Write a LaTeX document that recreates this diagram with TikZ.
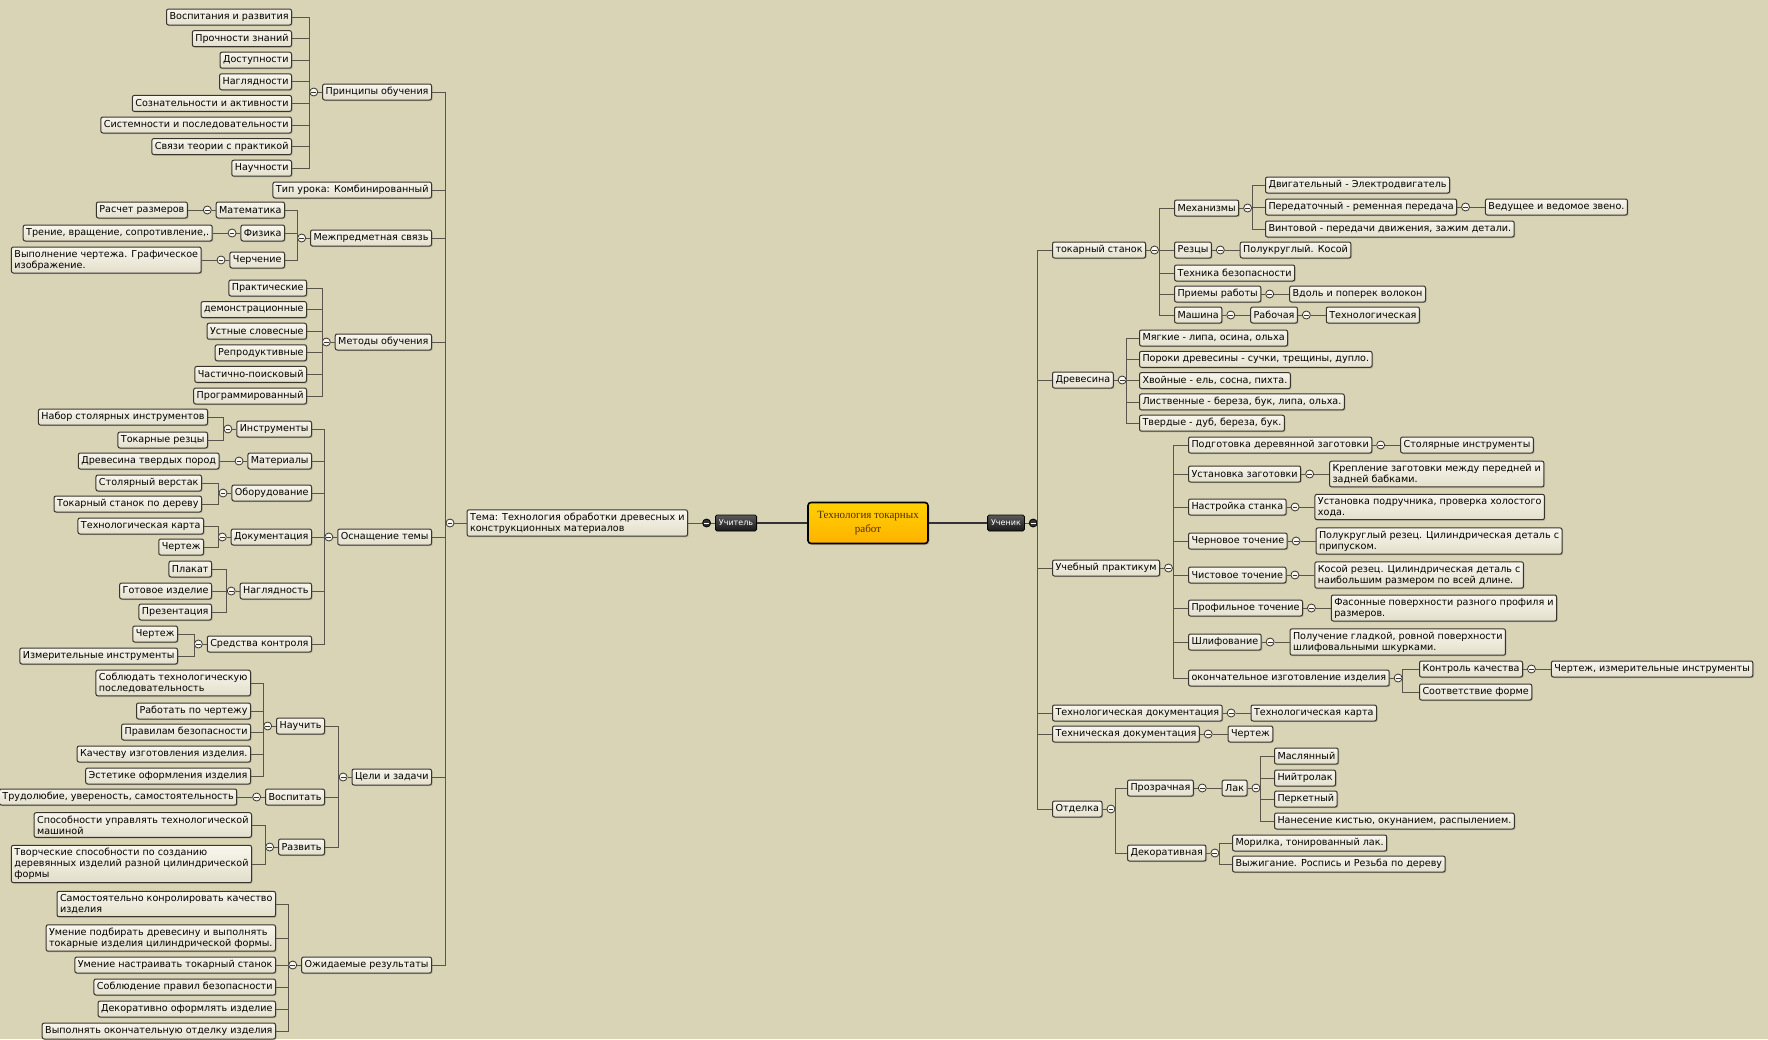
\documentclass[tikz,border=0pt]{standalone}
\usepackage{fontspec}
\setmainfont{DejaVu Sans}
\newfontfamily\rootfont{Liberation Serif}
\usetikzlibrary{positioning,shadows}

\definecolor{paper}{RGB}{217,212,182}
\definecolor{boxtop}{RGB}{249,247,238}
\definecolor{boxbot}{RGB}{226,222,202}
\definecolor{linecol}{RGB}{55,53,46}
\definecolor{wirecol}{RGB}{88,86,76}
\definecolor{rootfill}{RGB}{255,178,0}
\definecolor{roottext}{RGB}{80,45,0}

\tikzset{
  topic/.style={rectangle, rounded corners=2pt, draw=linecol, line width=1pt,
    top color=boxtop, bottom color=boxbot,
    drop shadow={opacity=0.3, shadow xshift=1.2pt, shadow yshift=-1.2pt},
    minimum height=16pt, inner xsep=3pt, inner ysep=3pt, align=left},
  ltopic/.style={topic, anchor=east},
  rtopic/.style={topic, anchor=west},
  fold/.style={circle, draw=linecol, line width=0.8pt, fill=boxtop, minimum size=8pt, inner sep=0pt,
    path picture={\draw[linecol, line width=0.9pt] ([xshift=-2.4pt]path picture bounding box.center) -- ([xshift=2.4pt]path picture bounding box.center);}},
  darkfold/.style={circle, draw=black, line width=0.8pt, fill=black!80, minimum size=8pt, inner sep=0pt,
    path picture={\draw[white, line width=0.9pt] ([xshift=-2.4pt]path picture bounding box.center) -- ([xshift=2.4pt]path picture bounding box.center);}},
  person/.style={rectangle, rounded corners=1.5pt, draw=black, line width=0.8pt, top color=black!65, bottom color=black!90,
    text=white, font=\fontsize{8}{10}\selectfont, minimum height=16pt, inner xsep=3.5pt},
  root/.style={rectangle, rounded corners=3pt, draw=black, line width=1.6pt,
    top color=rootfill!60!yellow, bottom color=rootfill, text=roottext,
    minimum width=120pt, minimum height=41pt, align=center, font=\rootfont\fontsize{11}{14}\selectfont,
    drop shadow={opacity=0.3, shadow xshift=1.5pt, shadow yshift=-1.5pt}},
  wire/.style={draw=wirecol, line width=0.8pt},
  trunk/.style={draw=black!80, line width=1.4pt},
}

\begin{document}
\begin{tikzpicture}[x=1pt, y=-1pt, font=\fontsize{9.6}{11}\selectfont]
\useasboundingbox (0,0) rectangle (1768,1039);
\fill[paper] (0,0) rectangle (1768,1039);

\node[root] (root) at (868,523) {Технология токарных\\работ};
\node[person] (uchit) at (736,523) {Учитель};
\node[person] (uchen) at (1006,523) {Ученик};
\node[darkfold, left=4pt of uchit] (fuchit) {};
\node[darkfold, right=4pt of uchen] (fuchen) {};
\node[ltopic] (tema) at (688,523) {Тема: Технология обработки древесных и\\конструкционных материалов};
\node[fold] (ftema) at (450,523) {};
\draw[trunk] (uchit.east) -- (root.west);
\draw[trunk] (root.east) -- (uchen.west);
\draw[wire] (fuchit.east) -- (uchit.west);
\draw[wire] (tema.east) -- (fuchit.west);
\draw[wire] (uchen.east) -- (fuchen.west);

\node[ltopic] (princ) at (432,92) {Принципы обучения};
\node[ltopic] (tip) at (432,190) {Тип урока: Комбинированный};
\node[ltopic] (mezh) at (432,238) {Межпредметная связь};
\node[ltopic] (metod) at (432,342) {Методы обучения};
\node[ltopic] (osn) at (432,537) {Оснащение темы};
\node[ltopic] (celi) at (432,777) {Цели и задачи};
\node[ltopic] (ozhid) at (432,965) {Ожидаемые результаты};
\foreach \p in {princ,mezh,metod,osn,celi,ozhid}
  \node[fold, left=4pt of \p] (f\p) {};
\foreach \p in {princ,tip,mezh,metod,osn,celi,ozhid}
  \draw[wire] (\p.east) -| (ftema.west);

\foreach \t [count=\i] in {Воспитания и развития, Прочности знаний, Доступности, Наглядности,
    Сознательности и активности, Системности и последовательности, Связи теории с практикой, Научности}
  \node[ltopic] (princ\i) at (292,{17+21.6*(\i-1)}) {\t};
\foreach \i in {1,...,8}
  \draw[wire] (princ\i.east) -| (fprinc.west);

\node[ltopic] (mat) at (285,210) {Математика};
\node[ltopic] (fiz) at (285,233) {Физика};
\node[ltopic] (cher) at (285,260) {Черчение};
\foreach \p in {mat,fiz,cher}
  \node[fold, left=4pt of \p] (f\p) {};
\node[ltopic, left=15pt of fmat] (mat1) {Расчет размеров};
\node[ltopic, left=15pt of ffiz] (fiz1) {Трение, вращение, сопротивление,.};
\node[ltopic, left=15pt of fcher] (cher1) {Выполнение чертежа. Графическое\\изображение.};
\foreach \c in {mat,fiz,cher}
  \draw[wire] (\c.east) -| (fmezh.west);

\foreach \t [count=\i] in {Практические, демонстрационные, Устные словесные, Репродуктивные,
    Частично-поисковый, Программированный}
  \node[ltopic] (metod\i) at (307,{288+21.6*(\i-1)}) {\t};
\foreach \i in {1,...,6}
  \draw[wire] (metod\i.east) -| (fmetod.west);

\node[ltopic] (instr) at (312,429) {Инструменты};
\node[ltopic] (mater) at (312,461) {Материалы};
\node[ltopic] (obor) at (312,493) {Оборудование};
\node[ltopic] (dok) at (312,537) {Документация};
\node[ltopic] (nagl) at (312,591) {Наглядность};
\node[ltopic] (sredk) at (312,644) {Средства контроля};
\foreach \p in {instr,mater,obor,dok,nagl,sredk}
  \node[fold, left=4pt of \p] (f\p) {};
\node[ltopic] (instr1) at (208,417) {Набор столярных инструментов};
\node[ltopic] (instr2) at (208,440) {Токарные резцы};
\node[ltopic, left=15pt of fmater] (mater1) {Древесина твердых пород};
\node[ltopic] (obor1) at (202,483) {Столярный верстак};
\node[ltopic] (obor2) at (202,504) {Токарный станок по дереву};
\node[ltopic] (dok1) at (204,526) {Технологическая карта};
\node[ltopic] (dok2) at (204,547) {Чертеж};
\node[ltopic] (nagl1) at (212,569) {Плакат};
\node[ltopic] (nagl2) at (212,591) {Готовое изделие};
\node[ltopic] (nagl3) at (212,612) {Презентация};
\node[ltopic] (sredk1) at (178,634) {Чертеж};
\node[ltopic] (sredk2) at (178,656) {Измерительные инструменты};
\foreach \c in {instr,mater,obor,dok,nagl,sredk}
  \draw[wire] (\c.east) -| (fosn.west);
\foreach \c/\f in {instr1/instr,instr2/instr,mater1/mater,obor1/obor,obor2/obor,dok1/dok,dok2/dok,
    nagl1/nagl,nagl2/nagl,nagl3/nagl,sredk1/sredk,sredk2/sredk}
  \draw[wire] (\c.east) -| (f\f.west);

\node[ltopic] (nauch) at (325,726) {Научить};
\node[ltopic] (vosp) at (325,797) {Воспитать};
\node[ltopic] (razv) at (325,847) {Развить};
\foreach \p in {nauch,vosp,razv}
  \node[fold, left=4pt of \p] (f\p) {};
\node[ltopic] (nauch1) at (251,683) {Соблюдать технологическую\\последовательность};
\node[ltopic] (nauch2) at (251,711) {Работать по чертежу};
\node[ltopic] (nauch3) at (251,732) {Правилам безопасности};
\node[ltopic] (nauch4) at (251,754) {Качеству изготовления изделия.};
\node[ltopic] (nauch5) at (251,776) {Эстетике оформления изделия};
\node[ltopic, left=15pt of fvosp] (vosp1) {Трудолюбие, увереность, самостоятельность};
\node[ltopic] (razv1) at (252,825) {Способности управлять технологической\\машиной};
\node[ltopic] (razv2) at (252,864) {Творческие способности по созданию\\деревянных изделий разной цилиндрической\\формы};
\foreach \c in {nauch,vosp,razv}
  \draw[wire] (\c.east) -| (fceli.west);
\foreach \i in {1,...,5}
  \draw[wire] (nauch\i.east) -| (fnauch.west);
\foreach \i in {1,2}
  \draw[wire] (razv\i.east) -| (frazv.west);

\node[ltopic] (ozhid1) at (276,904) {Самостоятельно конролировать качество\\изделия};
\node[ltopic] (ozhid2) at (276,938) {Умение подбирать древесину и выполнять\\токарные изделия цилиндрической формы.};
\node[ltopic] (ozhid3) at (276,965) {Умение настраивать токарный станок};
\node[ltopic] (ozhid4) at (276,987) {Соблюдение правил безопасности};
\node[ltopic] (ozhid5) at (276,1009) {Декоративно оформлять изделие};
\node[ltopic] (ozhid6) at (276,1031) {Выполнять окончательную отделку изделия};
\foreach \i in {1,...,6}
  \draw[wire] (ozhid\i.east) -| (fozhid.west);

\foreach \p in {princ,mezh,metod,osn,celi,ozhid,mat,fiz,cher,instr,mater,obor,dok,nagl,sredk,nauch,vosp,razv,tema}
  \draw[wire] (f\p.east) -- (\p.west);
\foreach \c/\f in {mat1/mat,fiz1/fiz,cher1/cher,vosp1/vosp}
  \draw[wire] (\c.east) -- (f\f.west);

\node[rtopic] (tok) at (1052,250) {токарный станок};
\node[rtopic] (drev) at (1052,380) {Древесина};
\node[rtopic] (prak) at (1052,568) {Учебный практикум};
\node[rtopic] (tdok) at (1052,713) {Технологическая документация};
\node[rtopic] (tehd) at (1052,734) {Техническая документация};
\node[rtopic] (otd) at (1052,809) {Отделка};
\foreach \p in {tok,drev,prak,tdok,tehd,otd}
  \node[fold, right=4pt of \p] (f\p) {};
\foreach \p in {tok,drev,prak,tdok,tehd,otd}
  \draw[wire] (fuchen.east) |- (\p.west);

\node[rtopic] (mech) at (1174,208) {Механизмы};
\node[rtopic] (rez) at (1174,250) {Резцы};
\node[rtopic] (tehb) at (1174,273) {Техника безопасности};
\node[rtopic] (priem) at (1174,294) {Приемы работы};
\node[rtopic] (mash) at (1174,315) {Машина};
\foreach \p in {mech,rez,priem,mash}
  \node[fold, right=4pt of \p] (f\p) {};
\node[rtopic] (mech1) at (1265,185) {Двигательный - Электродвигатель};
\node[rtopic] (mech2) at (1265,207) {Передаточный - ременная передача};
\node[rtopic] (mech3) at (1265,229) {Винтовой - передачи движения, зажим детали.};
\node[fold, right=4pt of mech2] (fmech2) {};
\node[rtopic, right=15pt of fmech2] (mech21) {Ведущее и ведомое звено.};
\node[rtopic, right=15pt of frez] (rez1) {Полукруглый. Косой};
\node[rtopic, right=15pt of fpriem] (priem1) {Вдоль и поперек волокон};
\node[rtopic, right=15pt of fmash] (mash1) {Рабочая};
\node[fold, right=4pt of mash1] (fmash1) {};
\node[rtopic, right=15pt of fmash1] (mash2) {Технологическая};
\foreach \c in {mech,rez,tehb,priem,mash}
  \draw[wire] (ftok.east) |- (\c.west);
\foreach \i in {1,2,3}
  \draw[wire] (fmech.east) |- (mech\i.west);

\foreach \t [count=\i] in {Мягкие - липа{,} осина{,} ольха, Пороки древесины - сучки{,} трещины{,} дупло.,
    Хвойные - ель{,} сосна{,} пихта., Лиственные - береза{,} бук{,} липа{,} ольха., Твердые - дуб{,} береза{,} бук.}
  \node[rtopic] (drev\i) at (1139,{338+21.3*(\i-1)}) {\t};
\foreach \i in {1,...,5}
  \draw[wire] (fdrev.east) |- (drev\i.west);

\node[rtopic] (prak1) at (1188,445) {Подготовка деревянной заготовки};
\node[rtopic] (prak2) at (1188,474) {Установка заготовки};
\node[rtopic] (prak3) at (1188,507) {Настройка станка};
\node[rtopic] (prak4) at (1188,541) {Черновое точение};
\node[rtopic] (prak5) at (1188,575) {Чистовое точение};
\node[rtopic] (prak6) at (1188,608) {Профильное точение};
\node[rtopic] (prak7) at (1188,642) {Шлифование};
\node[rtopic] (prak8) at (1188,678) {окончательное изготовление изделия};
\foreach \i in {1,...,8}
  \node[fold, right=4pt of prak\i] (fprak\i) {};
\node[rtopic, right=15pt of fprak1] (prak11) {Столярные инструменты};
\node[rtopic, right=15pt of fprak2] (prak21) {Крепление заготовки между передней и\\задней бабками.};
\node[rtopic, right=15pt of fprak3] (prak31) {Установка подручника, проверка холостого\\хода.};
\node[rtopic, right=15pt of fprak4] (prak41) {Полукруглый резец. Цилиндрическая деталь с\\припуском.};
\node[rtopic, right=15pt of fprak5] (prak51) {Косой резец. Цилиндрическая деталь с\\наибольшим размером по всей длине.};
\node[rtopic, right=15pt of fprak6] (prak61) {Фасонные поверхности разного профиля и\\размеров.};
\node[rtopic, right=15pt of fprak7] (prak71) {Получение гладкой, ровной поверхности\\шлифовальными шкурками.};
\node[rtopic] (kontr) at (1419,669) {Контроль качества};
\node[rtopic] (sootv) at (1419,692) {Соответствие форме};
\node[fold, right=4pt of kontr] (fkontr) {};
\node[rtopic, right=15pt of fkontr] (kontr1) {Чертеж, измерительные инструменты};
\foreach \i in {1,...,8}
  \draw[wire] (fprak.east) |- (prak\i.west);
\foreach \i in {1,...,7}
  \draw[wire] (fprak\i.east) -- (prak\i1.west);
\foreach \c in {kontr,sootv}
  \draw[wire] (fprak8.east) |- (\c.west);

\node[rtopic, right=15pt of ftdok] (tdok1) {Технологическая карта};
\node[rtopic, right=15pt of ftehd] (tehd1) {Чертеж};

\node[rtopic] (proz) at (1127,788) {Прозрачная};
\node[rtopic] (dekor) at (1127,853) {Декоративная};
\node[fold, right=4pt of proz] (fproz) {};
\node[fold, right=4pt of dekor] (fdekor) {};
\node[rtopic, right=15pt of fproz] (lak) {Лак};
\node[fold, right=4pt of lak] (flak) {};
\node[rtopic] (lak1) at (1274,756) {Маслянный};
\node[rtopic] (lak2) at (1274,778) {Нийтролак};
\node[rtopic] (lak3) at (1274,799) {Перкетный};
\node[rtopic] (lak4) at (1274,821) {Нанесение кистью, окунанием, распылением.};
\node[rtopic] (dek1) at (1232,843) {Морилка, тонированный лак.};
\node[rtopic] (dek2) at (1232,864) {Выжигание. Роспись и Резьба по дереву};
\foreach \c in {proz,dekor}
  \draw[wire] (fotd.east) |- (\c.west);
\foreach \i in {1,...,4}
  \draw[wire] (flak.east) |- (lak\i.west);
\foreach \i in {1,2}
  \draw[wire] (fdekor.east) |- (dek\i.west);

\foreach \p in {tok,drev,prak,tdok,tehd,otd,mech,mech2,rez,priem,mash,mash1,prak1,prak2,prak3,prak4,
    prak5,prak6,prak7,prak8,kontr,proz,lak,dekor}
  \draw[wire] (\p.east) -- (f\p.west);
\foreach \f/\c in {mech2/mech21,rez/rez1,priem/priem1,mash/mash1,mash1/mash2,kontr/kontr1,tdok/tdok1,tehd/tehd1,proz/lak}
  \draw[wire] (f\f.east) -- (\c.west);
\end{tikzpicture}
\end{document}
